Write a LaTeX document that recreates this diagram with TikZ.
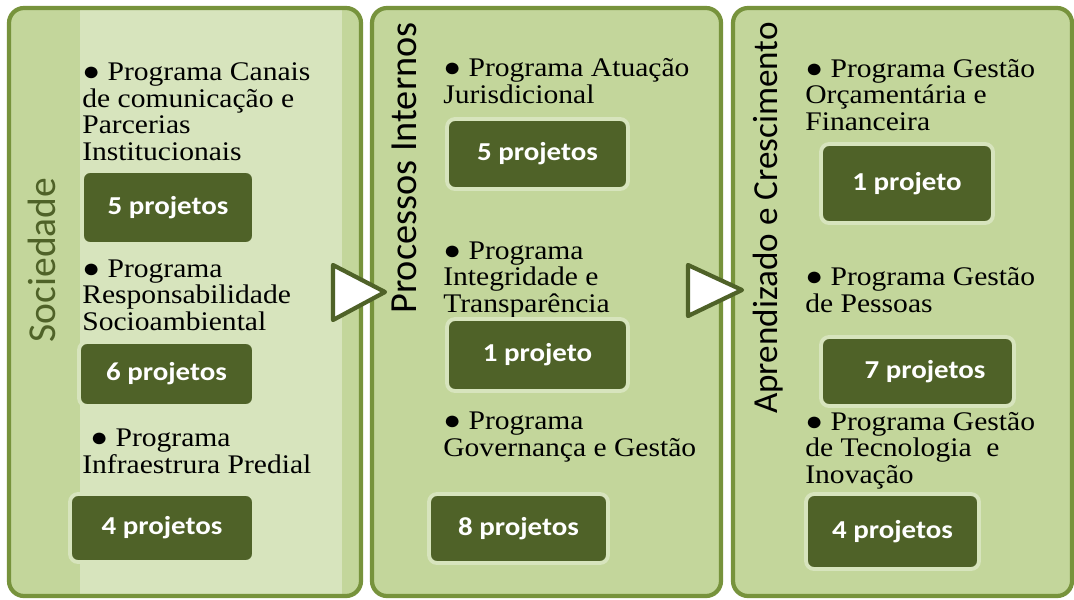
\documentclass[tikz,border=0pt]{standalone}
\usepackage{fontspec}
\usepackage{xcolor}
\newfontfamily\progfont[FakeStretch=1.10]{Liberation Serif}
\newfontfamily\boxfont[FakeStretch=1.12]{Carlito}
\newfontfamily\titlefont{Carlito}
\definecolor{panelfill}{HTML}{C3D69B}
\definecolor{stripfill}{HTML}{D7E4BD}
\definecolor{panelline}{HTML}{77933C}
\definecolor{boxfill}{HTML}{4F6228}

\begin{document}
\begin{tikzpicture}[x=0.02cm,y=-0.02cm,
    panel/.style={draw=panelline, line width=2.4pt, rounded corners=0.3cm},
    projbox/.style={draw=stripfill, line width=2.2pt, fill=boxfill, rounded corners=0.16cm,
        text=white, inner sep=0pt, font=\boxfont\bfseries\fontsize{14.7}{16}\selectfont},
    progtext/.style={anchor=base west, align=left, inner sep=0pt,
        font=\progfont\fontsize{15.3}{15}\selectfont},
    title/.style={rotate=90, anchor=base, inner sep=0pt},
    arrowtri/.style={draw=boxfill, line width=2.4pt, fill=white, line join=round}]
    \useasboundingbox (0,0) rectangle (1074,599);
    % panels
    \fill[panelfill, rounded corners=0.3cm] (9,8) rectangle (361,596);
    \fill[stripfill] (80,9) rectangle (342,595);
    \draw[panel] (9,8) rectangle (361,596);
    \draw[panel, fill=panelfill] (372,8) rectangle (721,596);
    \draw[panel, fill=panelfill] (733,8) rectangle (1072,596);
    % titles
    \node[title, text=boxfill, font={\titlefont\fontsize{22.5}{24}\selectfont}] at(55,260)(soc){Sociedade};
    \node[title, font={\titlefont\fontsize{21.8}{24}\selectfont}] at(416,168)(proc){Processos Internos};
    \node[title, font={\titlefont\fontsize{20}{22}\selectfont}] at(777,218)(apr){Aprendizado e Crescimento};
    % Sociedade (node base = last line)
    \node[progtext] at(82,160)(t1){● Programa Canais\\de comunicação e\\Parcerias\\Institucionais};
    \node[progtext] at(82,330)(t2){● Programa\\Responsabilidade\\Socioambiental};
    \node[progtext] at(82,473)(t3){\hspace*{0.16cm}● Programa\\Infraestrura Predial};
    \node[projbox, minimum width=3.44cm, minimum height=1.46cm] at(168,207.5)(b1){5 projetos};
    \node[projbox, minimum width=3.50cm, minimum height=1.28cm] at(166.5,374)(b2){6 projetos};
    \node[projbox, minimum width=3.68cm, minimum height=1.36cm] at(162,528)(b3){4 projetos};
    % Processos Internos
    \node[progtext] at(443,103)(t4){● Programa Atuação\\Jurisdicional};
    \node[progtext] at(443,312)(t5){● Programa\\Integridade e\\Transparência};
    \node[progtext] at(443,456)(t6){● Programa\\Governança e Gestão};
    \node[projbox, minimum width=3.62cm, minimum height=1.40cm] at(537.5,154)(b4){5 projetos};
    \node[projbox, minimum width=3.62cm, minimum height=1.44cm] at(537.5,355)(b5){1 projeto};
    \node[projbox, minimum width=3.58cm, minimum height=1.38cm] at(518.5,528.5)(b6){8 projetos};
    % Aprendizado e Crescimento
    \node[progtext] at(805,130)(t7){● Programa Gestão\\Orçamentária e\\Financeira};
    \node[progtext] at(805,312)(t8){● Programa Gestão\\de Pessoas};
    \node[progtext] at(805,483)(t9){● Programa Gestão\\de Tecnologia\ \ e\\Inovação};
    \node[projbox, minimum width=3.44cm, minimum height=1.58cm] at(907,183.5)(b7){1 projeto};
    \node[projbox, minimum width=3.86cm, minimum height=1.38cm] at(917.5,371.5)(b8){\hspace*{0.3cm}7 projetos};
    \node[projbox, minimum width=3.46cm, minimum height=1.50cm] at(892.5,531.5)(b9){4 projetos};
    % arrows between panels
    \draw[arrowtri] (333,265) -- (385,292) -- (333,320) -- cycle;
    \draw[arrowtri] (688,265) -- (742,290) -- (688,316) -- cycle;
\end{tikzpicture}
\end{document}
